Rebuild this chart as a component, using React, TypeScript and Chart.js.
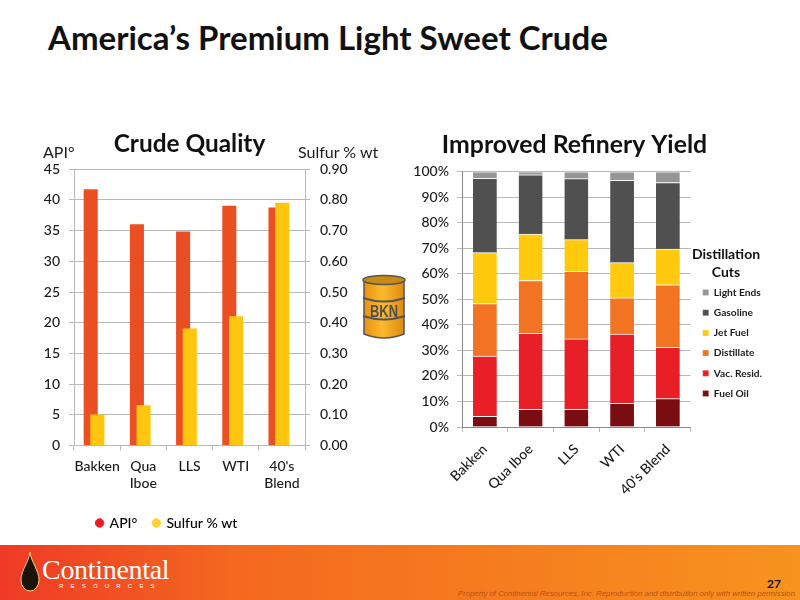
import { useEffect, useRef } from 'react';
import { Chart, registerables } from 'chart.js';

Chart.register(...registerables);

const FONT = 'Lato, "Open Sans", sans-serif';
const TEXT = '#1a1a1a';
const GRID = '#b9b9b9';

const crudes = ['Bakken', ['Qua', 'Iboe'], 'LLS', 'WTI', ["40's", 'Blend']];
const apiGravity = [41.7, 36, 34.8, 39, 38.7];
const sulfurPct = [0.1, 0.13, 0.38, 0.42, 0.79];

const yieldCrudes = ['Bakken', 'Qua Iboe', 'LLS', 'WTI', "40's Blend"];
const fuelOil = [4.2, 6.9, 6.9, 9.3, 11.1];
const vacResid = [23.6, 29.8, 27.6, 27.1, 20.1];
const distillate = [20.6, 20.7, 26.5, 14.2, 24.5];
const jetFuel = [19.9, 18.2, 12.4, 13.8, 14];
const gasoline = [29.1, 23.2, 23.9, 32.2, 26.1];
const lightEnds = [2.6, 1.2, 2.7, 3.4, 4.2];

// bars overlap by half and sit a little left of the tick centre
const barShift: Record<number, number> = { 0: -6.4, 1: 0.3 };
const overlapBars = {
  id: 'overlapBars',
  beforeDatasetDraw(chart: any, args: any) {
    chart.ctx.save();
    chart.ctx.translate(barShift[args.index] ?? 0, 0);
  },
  afterDatasetDraw(chart: any) {
    chart.ctx.restore();
  },
};

// legend and title in the slide don't sit where chart.js centres them
const nudgeBoxes = (legendDx: number, legendDy: number, titleDx = 0) => ({
  id: 'nudgeBoxes',
  afterLayout(chart: any) {
    const l = chart.legend;
    l.left += legendDx;
    l.right += legendDx;
    l.top += legendDy;
    l.bottom += legendDy;
    chart.titleBlock.left += titleDx;
    chart.titleBlock.right += titleDx;
  },
});

function QualityChart() {
  const canvasRef = useRef<HTMLCanvasElement>(null);

  useEffect(() => {
    if (!canvasRef.current) return;
    const chart = new Chart(canvasRef.current, {
      type: 'bar',
      data: {
        labels: crudes as any,
        datasets: [
          { label: 'API°', data: apiGravity, yAxisID: 'y', backgroundColor: '#e94f23', grouped: false, barThickness: 13.4, order: 1 },
          { label: 'Sulfur % wt', data: sulfurPct, yAxisID: 'y2', backgroundColor: '#ffc60f', grouped: false, barThickness: 13.4, order: 0 },
        ],
      },
      plugins: [overlapBars, nudgeBoxes(-33, 0)],
      options: {
        responsive: false,
        animation: false,
        layout: { padding: { top: 10, bottom: 4 } },
        plugins: {
          tooltip: { enabled: false },
          title: {
            display: true,
            fullSize: false,
            text: 'Crude Quality',
            color: '#111',
            font: { family: FONT, size: 24.4, weight: 'bold' },
            padding: { top: 0, bottom: 10 },
          },
          legend: {
            position: 'bottom',
            labels: {
              color: TEXT,
              font: { family: FONT, size: 14, weight: 500 },
              usePointStyle: true,
              pointStyle: 'circle',
              boxWidth: 6,
              boxHeight: 6,
              padding: 16,
              generateLabels: () => [
                { text: 'API°', fillStyle: '#ee1c25', strokeStyle: '#ee1c25', pointStyle: 'circle', datasetIndex: 0 },
                { text: 'Sulfur % wt', fillStyle: '#ffd030', strokeStyle: '#ffd030', pointStyle: 'circle', datasetIndex: 1 },
              ],
            },
          },
        },
        scales: {
          x: {
            afterFit: (s: any) => { s.height = 54.5; },
            grid: { drawOnChartArea: false, color: GRID, tickLength: 5 },
            border: { color: GRID },
            ticks: { color: TEXT, font: { family: FONT, size: 14, weight: 500 }, maxRotation: 0, autoSkip: false, padding: 7.5 },
          },
          y: {
            min: 0,
            max: 45,
            afterFit: (s: any) => { s.width = 74; },
            grid: { color: GRID, tickLength: 5 },
            border: { color: GRID },
            ticks: { stepSize: 5, color: TEXT, font: { family: FONT, size: 14, weight: 500 }, padding: 9 },
          },
          y2: {
            position: 'right',
            min: 0,
            max: 0.9,
            afterFit: (s: any) => { s.width = 95; },
            grid: { drawOnChartArea: false, color: GRID, tickLength: 5 },
            border: { color: GRID },
            ticks: {
              stepSize: 0.1,
              color: TEXT,
              font: { family: FONT, size: 14, weight: 500 },
              padding: 10,
              callback: (v: any) => Number(v).toFixed(2),
            },
          },
        },
      },
    });
    return () => chart.destroy();
  }, []);

  return <canvas ref={canvasRef} width={400} height={424} style={{ position: 'absolute', left: 0, top: 120 }} />;
}

function YieldChart() {
  const canvasRef = useRef<HTMLCanvasElement>(null);

  useEffect(() => {
    if (!canvasRef.current) return;
    const seg = (label: string, data: number[], backgroundColor: string) => ({
      label,
      data,
      backgroundColor,
      borderColor: '#f4f4f4',
      borderWidth: { top: 1 },
      borderSkipped: false,
      barThickness: 23.7,
    });
    const chart = new Chart(canvasRef.current, {
      type: 'bar',
      data: {
        labels: yieldCrudes,
        datasets: [
          seg('Fuel Oil', fuelOil, '#7a0d12'),
          seg('Vac. Resid.', vacResid, '#e81f26'),
          seg('Distillate', distillate, '#f27423'),
          seg('Jet Fuel', jetFuel, '#ffc90e'),
          seg('Gasoline', gasoline, '#505050'),
          seg('Light Ends', lightEnds, '#969696'),
        ],
      },
      plugins: [nudgeBoxes(2, 24.5, -10.5)],
      options: {
        responsive: false,
        animation: false,
        layout: { padding: { top: 10, right: 30, bottom: 33 } },
        plugins: {
          tooltip: { enabled: false },
          title: {
            display: true,
            text: 'Improved Refinery Yield',
            color: '#111',
            font: { family: FONT, size: 24.8, weight: 'bold' },
            padding: { top: 0, bottom: 12 },
          },
          legend: {
            position: 'right',
            reverse: true,
            labels: {
              color: TEXT,
              font: { family: FONT, size: 10.2, weight: 'bold' },
              boxWidth: 6,
              boxHeight: 6,
              padding: 10,
            },
          },
        },
        scales: {
          x: {
            stacked: true,
            afterFit: (s: any) => { s.height = 80; },
            grid: { drawOnChartArea: false, color: GRID, tickLength: 5 },
            border: { color: '#8a8a8a' },
            ticks: { color: TEXT, font: { family: FONT, size: 14, weight: 500 }, maxRotation: 45, minRotation: 45, autoSkip: false, padding: 9 },
          },
          y: {
            stacked: true,
            min: 0,
            max: 100,
            afterFit: (s: any) => { s.width = 62; },
            grid: { color: GRID, tickLength: 5 },
            border: { color: '#8a8a8a' },
            ticks: { stepSize: 10, color: TEXT, font: { family: FONT, size: 14, weight: 500 }, padding: 8, callback: (v: any) => `${v}%` },
          },
        },
      },
    });
    return () => chart.destroy();
  }, []);

  return <canvas ref={canvasRef} width={400} height={420} style={{ position: 'absolute', left: 400, top: 120 }} />;
}

function Barrel() {
  return (
    <svg width={46} height={68} viewBox="0 0 46 68" style={{ position: 'absolute', left: 361, top: 273 }}>
      <defs>
        <linearGradient id="drum" x1="0" x2="1" y1="0" y2="0">
          <stop offset="0" stopColor="#e8920f" />
          <stop offset="0.45" stopColor="#fdb92d" />
          <stop offset="1" stopColor="#e08a12" />
        </linearGradient>
      </defs>
      <path d="M3 7 V61 Q23 69 43 61 V7 Z" fill="url(#drum)" stroke="#555" strokeWidth="1.5" />
      <ellipse cx="23" cy="7" rx="21" ry="4.5" fill="#c98a12" stroke="#555" strokeWidth="1.5" />
      <path d="M2 25 Q23 32 44 25 M2 43 Q23 50 44 43" fill="none" stroke="#555" strokeWidth="2" />
      <text x="23" y="44" textAnchor="middle" fontFamily="Liberation Sans" fontWeight="bold" fontSize="17" fill="#4f4f4f" textLength="28" lengthAdjust="spacingAndGlyphs">BKN</text>
    </svg>
  );
}

function Footer() {
  return (
    <div style={{ position: 'absolute', left: 0, top: 545, width: 800, height: 55, background: 'linear-gradient(90deg, #ee3a26 0%, #f4691f 30%, #f7931e 100%)' }}>
      <svg width={20} height={40} viewBox="0 0 20 40" style={{ position: 'absolute', left: 20, top: 7 }}>
        <path d="M10 0 C11 10 19 18 19 28 A9 11 0 0 1 1 28 C1 18 9 10 10 0 Z" fill="#1c1408" stroke="#f6d27a" strokeWidth="1" />
      </svg>
      <div style={{ position: 'absolute', left: 42, top: 9, fontFamily: 'Liberation Serif', fontSize: 28, color: '#fff', letterSpacing: -0.3 }}>Continental</div>
      <div style={{ position: 'absolute', left: 59, top: 38, fontFamily: 'Liberation Sans', fontSize: 6, color: '#fff', letterSpacing: 7.2 }}>RESOURCES</div>
      <div style={{ position: 'absolute', left: 767, top: 31, fontFamily: FONT, fontWeight: 'bold', fontSize: 12, color: '#111' }}>27</div>
      <div style={{ position: 'absolute', right: 5, top: 44, fontFamily: 'Liberation Sans', fontStyle: 'italic', fontSize: 7.8, color: '#b8541a', whiteSpace: 'nowrap' }}>
        Property of Continental Resources, Inc. Reproduction and distribution only with written permission
      </div>
    </div>
  );
}

export default function App() {
  useEffect(() => {
    document.body.style.margin = '0';
  }, []);

  return (
    <div style={{ position: 'relative', width: 800, height: 600, background: '#fff', overflow: 'hidden' }}>
      <div style={{ position: 'absolute', left: 48, top: 17, fontFamily: FONT, fontWeight: 'bold', fontSize: 33, color: '#111', whiteSpace: 'nowrap' }}>
        America’s Premium Light Sweet Crude
      </div>
      <QualityChart />
      <YieldChart />
      <div style={{ position: 'absolute', left: 43, top: 142, fontFamily: FONT, fontSize: 16, color: TEXT }}>API°</div>
      <div style={{ position: 'absolute', left: 298, top: 142, fontFamily: FONT, fontSize: 16, color: TEXT }}>Sulfur % wt</div>
      <div style={{ position: 'absolute', left: 686, top: 245, width: 80, textAlign: 'center', fontFamily: FONT, fontWeight: 'bold', fontSize: 14, lineHeight: '18px', color: '#111' }}>
        Distillation<br />Cuts
      </div>
      <Barrel />
      <Footer />
    </div>
  );
}
